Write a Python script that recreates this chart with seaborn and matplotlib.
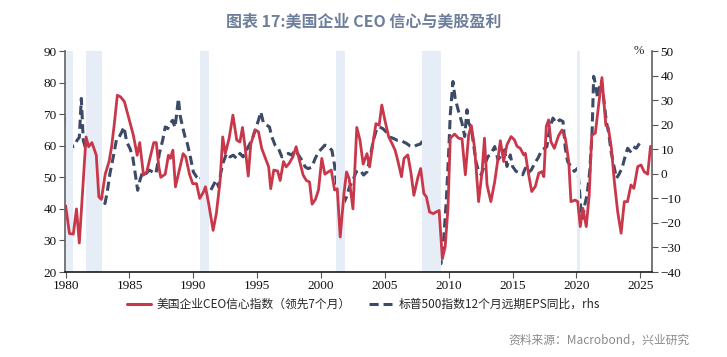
import numpy as np
import pandas as pd
import matplotlib
matplotlib.use("Agg")
import matplotlib.pyplot as plt
import seaborn as sns

# 美国企业CEO信心指数（领先7个月），左轴
ceo_x = [1980.0, 1980.3, 1980.6, 1980.85, 1981.07, 1981.6, 1981.8, 1982.06, 1982.4, 1982.6,
         1982.8, 1983.1, 1983.4, 1983.6, 1983.8, 1984.05, 1984.3, 1984.6, 1985.0, 1985.3,
         1985.6, 1985.8, 1986.1, 1986.35, 1986.6, 1986.9, 1987.1, 1987.3, 1987.45, 1987.8,
         1988.05, 1988.2, 1988.4, 1988.6, 1988.9, 1989.2, 1989.4, 1989.7, 1989.95, 1990.25,
         1990.5, 1990.8, 1990.95, 1991.2, 1991.55, 1991.8, 1992.1, 1992.3, 1992.5, 1992.8,
         1993.1, 1993.4, 1993.65, 1993.85, 1994.05, 1994.3, 1994.5, 1994.84, 1995.1, 1995.36,
         1995.6, 1995.9, 1996.06, 1996.3, 1996.6, 1996.8, 1997.06, 1997.27, 1997.5, 1997.8,
         1998.05, 1998.3, 1998.6, 1998.85, 1999.1, 1999.3, 1999.56, 1999.8, 2000.06, 2000.3,
         2000.56, 2000.8, 2001.06, 2001.27, 2001.5, 2001.8, 2002.0, 2002.2, 2002.5, 2002.8,
         2003.05, 2003.3, 2003.6, 2003.8, 2004.06, 2004.3, 2004.55, 2004.76, 2005.0, 2005.3,
         2005.56, 2005.8, 2006.0, 2006.3, 2006.5, 2006.8, 2007.05, 2007.27, 2007.6, 2007.8,
         2008.05, 2008.25, 2008.5, 2008.8, 2009.0, 2009.25, 2009.5, 2009.72, 2009.94, 2010.12,
         2010.46, 2010.77, 2011.04, 2011.3, 2011.56, 2011.77, 2012.03, 2012.34, 2012.6, 2012.8,
         2013.0, 2013.3, 2013.6, 2013.86, 2014.04, 2014.3, 2014.56, 2014.88, 2015.14, 2015.35,
         2015.6, 2015.87, 2016.0, 2016.26, 2016.5, 2016.78, 2017.05, 2017.3, 2017.45, 2017.64,
         2017.82, 2018.0, 2018.27, 2018.6, 2018.87, 2019.13, 2019.4, 2019.57, 2019.9, 2020.1,
         2020.3, 2020.5, 2020.77, 2021.0, 2021.2, 2021.48, 2021.74, 2022.0, 2022.3, 2022.5,
         2022.74, 2022.97, 2023.23, 2023.5, 2023.75, 2024.0, 2024.27, 2024.5, 2024.8, 2025.06,
         2025.3, 2025.58, 2025.8]
ceo_y = [41, 32.2, 32, 40, 29.2, 62.8, 59.7, 61, 57, 43.8,
         43, 51, 55, 59.7, 66.5, 76, 75.5, 74, 68, 63.4,
         57, 61, 50.7, 51.7, 56, 61, 61, 53.3, 50, 51,
         57, 56, 58.6, 47, 52.3, 57.5, 56.5, 51, 48, 48,
         43.3, 45.4, 47, 41.7, 33.2, 38.5, 49, 62.8, 57.5, 62.3,
         69.7, 61.8, 61.2, 65.8, 59.7, 50.4, 60.5, 65, 64.4, 59.1,
         56.5, 53.3, 46.4, 52.3, 52, 49, 55, 53.3, 54.4, 56.5,
         59.7, 55.5, 50.7, 49, 48.5, 41.5, 43, 46, 56, 51,
         51.7, 52.3, 46, 46.4, 31.1, 45, 51.7, 49.6, 40, 65.8,
         61.8, 54.2, 57.5, 53.3, 60.7, 67, 66.5, 72.9, 68.1, 62.8,
         60.7, 58.6, 55.5, 50.2, 56, 57.1, 51.2, 44.3, 50.2, 52.8,
         44.9, 43.8, 39, 38.5, 39, 39.5, 24.2, 28, 40.2, 62.4,
         63.7, 62.4, 62.2, 50.8, 63.4, 66.4, 59.2, 42.3, 51.3, 62.4,
         47.6, 42.3, 48.6, 56, 61.6, 55, 60.3, 62.9, 61.9, 59.8,
         59.2, 57.1, 57.6, 50.8, 45.5, 47.1, 51.3, 51.8, 50.2, 66.1,
         68.2, 61.3, 59.2, 63.2, 65, 62.4, 55, 42.3, 42.8, 42.3,
         34.4, 40.2, 34.4, 44.4, 63.4, 64, 73, 81.6, 66.6, 65.6,
         59.2, 48.6, 39.1, 32.3, 42.3, 42.3, 47.6, 46.5, 53.4, 53.9,
         51.8, 51, 59.8]

# 标普500指数12个月远期EPS同比（%），右轴
eps_x = [1980.08, 1980.15, 1980.22, 1980.34, 1980.55, 1980.73, 1980.9, 1981.07, 1981.23, 1981.38,
         1981.6, 1981.78, 1981.96, 1982.17, 1982.38, 1982.5, 1982.6, 1982.82, 1983.08, 1983.26,
         1983.47, 1983.73, 1984.0, 1984.2, 1984.4, 1984.57, 1984.78, 1985.04, 1985.25, 1985.43,
         1985.64, 1985.82, 1986.03, 1986.3, 1986.55, 1986.8, 1987.07, 1987.34, 1987.6, 1987.8,
         1988.0, 1988.17, 1988.38, 1988.56, 1988.7, 1988.83, 1988.96, 1989.16, 1989.35, 1989.53,
         1989.74, 1990.0, 1990.26, 1990.52, 1990.78, 1990.97, 1991.1, 1991.3, 1991.5, 1991.78,
         1991.98, 1992.14, 1992.35, 1992.6, 1992.87, 1993.13, 1993.4, 1993.65, 1993.9, 1994.3,
         1994.58, 1994.84, 1995.1, 1995.28, 1995.5, 1995.75, 1995.96, 1996.15, 1996.4, 1996.67,
         1996.93, 1997.2, 1997.45, 1997.7, 1997.97, 1998.24, 1998.5, 1998.76, 1999.0, 1999.28,
         1999.54, 1999.8, 2000.06, 2000.3, 2000.58, 2000.85, 2001.06, 2001.24, 2001.5, 2001.76,
         2002.0, 2002.23, 2002.5, 2002.75, 2003.07, 2003.33, 2003.6, 2003.85, 2004.1, 2004.37,
         2004.58, 2004.84, 2005.1, 2005.37, 2005.68, 2005.94, 2006.2, 2006.46, 2006.72, 2006.98,
         2007.25, 2007.5, 2007.77, 2007.9, 2008.03, 2008.24, 2008.47, 2008.68, 2008.87, 2009.02,
         2009.2, 2009.39, 2009.6, 2009.81, 2009.99, 2010.12, 2010.25, 2010.33, 2010.5, 2010.77,
         2011.04, 2011.25, 2011.43, 2011.56, 2011.77, 2011.95, 2012.13, 2012.34, 2012.55, 2012.8,
         2013.07, 2013.33, 2013.6, 2013.86, 2014.12, 2014.38, 2014.56, 2014.82, 2015.0, 2015.27,
         2015.53, 2015.79, 2016.0, 2016.2, 2016.47, 2016.73, 2016.99, 2017.3, 2017.51, 2017.69,
         2017.9, 2018.16, 2018.42, 2018.69, 2018.95, 2019.13, 2019.31, 2019.57, 2019.83, 2020.1,
         2020.25, 2020.36, 2020.5, 2020.65, 2020.83, 2021.04, 2021.22, 2021.35, 2021.5, 2021.66,
         2021.82, 2021.95, 2022.13, 2022.34, 2022.53, 2022.71, 2022.92, 2023.13, 2023.31, 2023.57,
         2023.78, 2024.01, 2024.22, 2024.43, 2024.69, 2024.95, 2025.14]
eps_y = [23.2, 19.1, 6.9, 13.7, 11, 11.7, 13.7, 14.8, 30.7, 13.7,
         9.6, 14.4, 9.6, 11, 3.5, -4, -7.4, -9.4, -12.1, -7.4,
         0.1, 6.9, 14.4, 15, 17.1, 19.1, 13, 10.3, 6.9, 0.8,
         -6.7, -2.6, 0.8, 0.1, 1.5, 0.8, 0.1, 8.3, 13.7, 19.1,
         18.4, 20.5, 21.8, 18.9, 24.6, 30.7, 23.9, 19.1, 15, 12.3,
         7.6, 0.8, -1.3, -2.6, 0.1, 2.8, -6.7, -7.4, -5.3, -2.6,
         -5.3, 0.1, 4.8, 8.3, 6.9, 7.6, 6.2, 8.3, 6.9, 11,
         13.7, 17.8, 21.8, 25.2, 20.5, 19.8, 19.1, 15, 11.7, 10.3,
         6.9, 7.6, 8.3, 7.6, 9.6, 7.6, 5.5, 2.8, 2.1, 2.8,
         6.2, 8.9, 10.3, 11.7, 11, 9.6, 3.5, -5.3, -8, -12.1,
         -9.4, -5.3, -2.6, 0.8, 1.5, -0.5, 0.8, 6.9, 13.7, 18.4,
         19.1, 18.4, 17.1, 15, 14.4, 13.7, 13.7, 13, 12.3, 11.3,
         11, 11.7, 12.1, 13, 10.3, 4.2, 0.8, -5.3, -16.2, -27.1,
         -33.9, -36.6, -27.1, -10.8, 8, 24, 32.2, 37.6, 30.8, 25.4,
         20.7, 15.2, 26.1, 20.7, 18.6, 11.8, 5, 1, -0.4, 3.6,
         7, 8.4, 11.1, 5.7, 7.7, 9.8, 3, 7.7, 3, 1,
         0.5, -0.4, 2.3, 0.3, 1.6, 4.3, 6.4, 9.8, 10.4, 11.1,
         18.6, 22.7, 20.7, 22, 21.3, 10.4, 5, 3, 1, 2.3,
         -7.3, -15.4, -18.1, -12.7, -8.6, 1, 15.9, 39.7, 36.3, 30.8,
         35.6, 37.6, 30.8, 21.3, 16.6, 9.1, 3.6, -1.8, -0.4, 2.3,
         6.4, 10.4, 9.1, 11.1, 10.4, 12.5, 13.1]

# 衰退期
rec_start = [1980.0, 1981.57, 1990.52, 2001.18, 2007.93, 2020.04]
rec_end = [1980.55, 1982.85, 1991.23, 2001.9, 2009.42, 2020.25]

years = list(range(1980, 2026, 5))
left_ticks = list(range(20, 91, 10))
right_ticks = list(range(-40, 51, 10))

red = "#c8374a"
navy = "#3c4a68"

sns.set_theme(style="ticks")
plt.rcParams['font.family'] = ['Noto Sans CJK SC', 'DejaVu Sans']

df_ceo = pd.DataFrame({"t": ceo_x, "v": ceo_y})
df_eps = pd.DataFrame({"t": eps_x, "v": eps_y})

fig = plt.figure(figsize=(7.27, 3.57), dpi=100)
ax = fig.add_axes([0.0894, 0.238, 0.808, 0.619])
ax2 = ax.twinx()

for s, e in zip(rec_start, rec_end):
    ax.axvspan(s, e, color="#e6edf6", lw=0, zorder=0)

sns.lineplot(data=df_ceo, x="t", y="v", ax=ax, color=red, lw=2.0, zorder=3)
sns.lineplot(data=df_eps, x="t", y="v", ax=ax2, color=navy, lw=2.2, zorder=2)
ax2.lines[0].set_dashes([3, 1.6])

ax.set_zorder(ax2.get_zorder() + 1)
ax.patch.set_visible(False)

ax.set_xlim(1979.95, 2025.95)
ax.set_ylim(20, 90)
ax2.set_ylim(-40, 50)
ax.set_xticks(years)
ax.set_yticks(left_ticks)
ax2.set_yticks(right_ticks)
ax.set_xlabel("")
ax.set_ylabel("")
ax2.set_ylabel("")

serif = ['Liberation Serif', 'DejaVu Serif']
for lab in ax.get_xticklabels() + ax.get_yticklabels() + ax2.get_yticklabels():
    lab.set_family(serif)
    lab.set_fontsize(9.5)
    lab.set_color("#111111")

ax.tick_params(axis="both", length=4, width=0.8, color="#555555", pad=2)
ax2.tick_params(axis="y", length=4, width=0.8, color="#555555", pad=2)

ax.spines["top"].set_visible(False)
ax2.spines["top"].set_visible(False)
ax.spines["left"].set_color("#666666")
ax2.spines["right"].set_color("#666666")
ax2.spines["left"].set_visible(False)
ax2.spines["bottom"].set_visible(False)
ax.spines["bottom"].set_color("#222222")
ax.spines["right"].set_visible(False)

ax2.text(0.985, 1.0, "%", transform=ax2.transAxes, ha="right", va="center",
         fontsize=9, family=serif)

fig.text(0.5, 0.94, "图表 17:美国企业 CEO 信心与美股盈利", ha="center", va="center",
         fontsize=11.5, fontweight="bold", color="#6d7f9c")

h1, = ax.plot([], [], color=red, lw=2.2)
h2, = ax.plot([], [], color=navy, lw=2.2, dashes=[3, 1.6])
fig.legend([h1, h2], ["美国企业CEO信心指数（领先7个月）", "标普500指数12个月远期EPS同比，rhs"],
           loc="center", bbox_to_anchor=(0.5, 0.148), ncol=2, frameon=False,
           fontsize=8.5, handlelength=2.0, columnspacing=1.5, handletextpad=0.5)

fig.text(0.948, 0.048, "资料来源：Macrobond，兴业研究", ha="right", va="center",
         fontsize=8.5, color="#8a8a8a")

fig.savefig("out.png", dpi=100)
